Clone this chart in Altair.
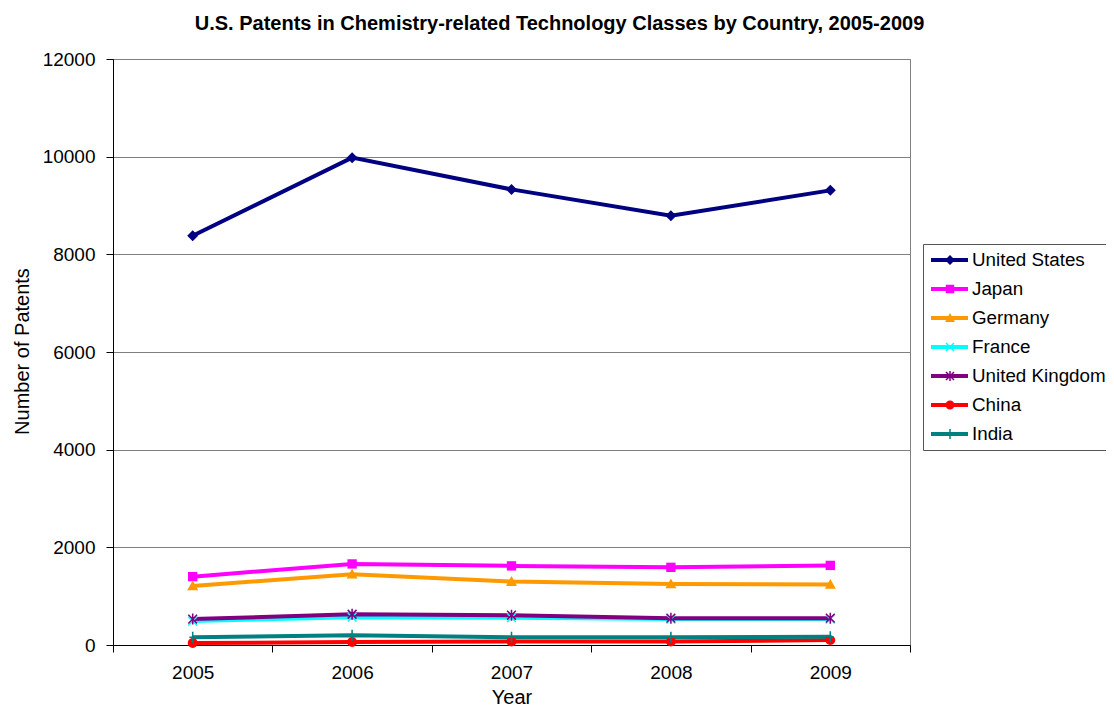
import math
import altair as alt
import pandas as pd

# ---------------- data ----------------
years = ["2005", "2006", "2007", "2008", "2009"]
countries = ["United States", "Japan", "Germany", "France", "United Kingdom", "China", "India"]
us = [8380, 9980, 9330, 8790, 9310]
japan = [1400, 1660, 1620, 1590, 1630]
germany = [1210, 1450, 1300, 1250, 1240]
france = [490, 570, 560, 530, 530]
uk = [530, 630, 610, 550, 550]
china = [40, 60, 70, 70, 100]
india = [160, 200, 160, 160, 170]
y_ticks = [0, 2000, 4000, 6000, 8000, 10000, 12000]

colors = ["#000080", "#FF00FF", "#FF9900", "#00FFFF", "#800080", "#FF0000", "#008080"]
markers = ["diamond", "square", "triangle", "x", "asterisk", "circle", "plus"]
series = [us, japan, germany, france, uk, china, india]


# ---------------- marker paths (styles) ----------------
def poly(pts):
    n = len(pts)
    a = sum(pts[i][0] * pts[(i + 1) % n][1] - pts[(i + 1) % n][0] * pts[i][1] for i in range(n))
    if a < 0:
        pts = pts[::-1]
    return "M" + "L".join(f"{x:.3f},{y:.3f}" for x, y in pts) + "Z"


def seg(x1, y1, x2, y2, w):
    dx, dy = x2 - x1, y2 - y1
    L = math.hypot(dx, dy)
    nx, ny = -dy / L * w, dx / L * w
    return poly([(x1 + nx, y1 + ny), (x2 + nx, y2 + ny), (x2 - nx, y2 - ny), (x1 - nx, y1 - ny)])


def marker(kind, cx, h, w):
    if kind == "diamond":
        return poly([(cx - h, 0), (cx, -h), (cx + h, 0), (cx, h)])
    if kind == "square":
        s = h * 0.85
        return poly([(cx - s, -s), (cx + s, -s), (cx + s, s), (cx - s, s)])
    if kind == "triangle":
        return poly([(cx, -h), (cx + h, h * 0.8), (cx - h, h * 0.8)])
    if kind == "circle":
        s = h * 0.9
        return (f"M{cx - s:.3f},0A{s:.3f},{s:.3f} 0 0,1 {cx + s:.3f},0"
                f"A{s:.3f},{s:.3f} 0 0,1 {cx - s:.3f},0Z")
    if kind == "x":
        s = h * 0.8
        return seg(cx - s, -s, cx + s, s, w) + seg(cx - s, s, cx + s, -s, w)
    if kind == "asterisk":
        s = h * 0.8
        return (seg(cx - s, -s, cx + s, s, w) + seg(cx - s, s, cx + s, -s, w)
                + seg(cx, -h, cx, h, w))
    # plus
    return seg(cx, -h, cx, h, w) + seg(cx - h * 0.6, 0, cx + h * 0.6, 0, w)


plot_paths = [marker(m, 0, 1.0, 0.14) for m in markers]
legend_paths = [poly([(-0.8, -0.2), (2.9, -0.2), (2.9, 0.2), (-0.8, 0.2)]) + marker(m, 1.1, 0.5, 0.075)
                for m in markers]

rows = []
for ci, (c, vals) in enumerate(zip(countries, series)):
    for y, v in zip(years, vals):
        rows.append({"Year": y, "Country": c, "Patents": v,
                     "col": colors[ci], "mpath": plot_paths[ci], "idx": ci})
df = pd.DataFrame(rows)

FONT = "Liberation Sans"

x_enc = alt.X(
    "Year:O",
    scale=alt.Scale(type="band", paddingInner=0, paddingOuter=0),
    bandPosition=0.5,
    title="Year",
    axis=alt.Axis(labelAngle=0, tickBand="extent", tickSize=7, labelPadding=11,
                  labelFontSize=19, titleFontSize=20, titleFontWeight="normal",
                  titleY=52, titleBaseline="middle", grid=False,
                  domainColor="#000000", tickColor="#000000"),
)
y_enc = alt.Y(
    "Patents:Q",
    scale=alt.Scale(domain=[0, 12000], nice=False),
    title="Number of Patents",
    axis=alt.Axis(values=y_ticks, format="d", tickSize=7, labelPadding=11,
                  labelFontSize=19, titleFontSize=20, titleFontWeight="normal",
                  titleX=-91, titleY=292, titleAngle=-90, titleBaseline="middle",
                  grid=True, gridColor="#808080", gridWidth=1,
                  domainColor="#000000", tickColor="#000000"),
)

base = alt.Chart(df)

lines = base.mark_line(strokeWidth=4).encode(
    x=x_enc, y=y_enc,
    color=alt.Color("col:N", scale=None),
    detail="idx:N",
)

points = base.mark_point(filled=True, opacity=1, size=121).encode(
    x=x_enc, y=y_enc,
    color=alt.Color("col:N", scale=None),
    shape=alt.Shape("mpath:N", scale=None),
)

leg = alt.Legend(title=None, orient="none", legendX=810, legendY=185,
                 strokeColor="#555555", fillColor="#ffffff", padding=6,
                 symbolSize=400, labelOffset=23, rowPadding=9,
                 labelFontSize=18.8, labelFont=FONT, labelColor="#000000",
                 labelLimit=400, symbolStrokeWidth=0)

legend_layer = base.transform_filter("false").mark_point(filled=True, opacity=1).encode(
    x=x_enc, y=y_enc,
    color=alt.Color("Country:N", scale=alt.Scale(domain=countries, range=colors), legend=leg),
    shape=alt.Shape("Country:N", scale=alt.Scale(domain=countries, range=legend_paths), legend=leg),
)

chart = alt.layer(lines, points, legend_layer).properties(
    width=797,
    height=586,
    title=alt.TitleParams(
        "U.S. Patents in Chemistry-related Technology Classes by Country, 2005-2009",
        fontSize=20, fontWeight="bold", font=FONT, anchor="middle", dx=48,
        offset=0, baseline="alphabetic", color="#000000",
    ),
    autosize=alt.AutoSizeParams(type="none"),
    padding={"left": 105, "top": 51, "right": 196, "bottom": 62},
).configure(font=FONT).configure_axis(
    labelFont=FONT, titleFont=FONT, labelColor="#000000", titleColor="#000000",
).configure_view(stroke="#808080", strokeWidth=1)

chart.save("out.html", embed_options={"renderer": "svg", "actions": False})
